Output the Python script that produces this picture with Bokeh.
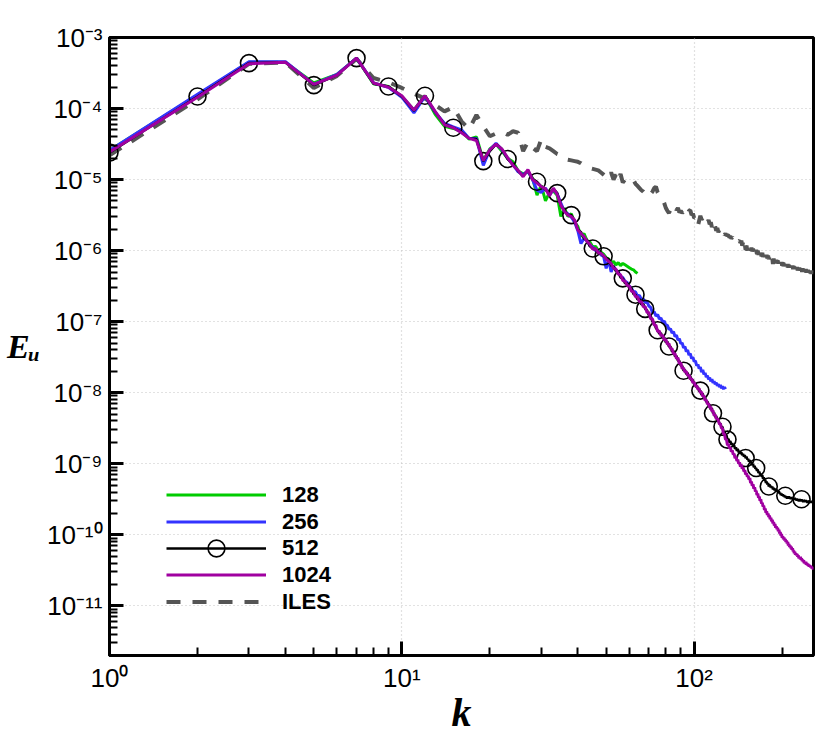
import numpy as np
from bokeh.plotting import figure
from bokeh.models import Range1d, FixedTicker, Legend, LegendItem
from bokeh.embed import file_html
from bokeh.resources import INLINE

# ---------------- data (log10 of E_u, one value per wavenumber k = 1, 2, 3, ...) ----------------
series_names = ["128", "256", "512", "1024", "ILES"]

logE_128 = [
    -4.59, -3.81, -3.35, -3.35, -3.64, -3.52, -3.29, -3.65, -3.69, -3.83,
    -4.02, -3.82, -4.08, -4.25, -4.28, -4.32, -4.43, -4.40, -4.73, -4.57,
    -4.50, -4.60, -4.70, -4.75, -4.88, -4.92, -4.89, -4.98, -5.22, -5.08,
    -5.30, -5.18, -5.16, -5.22, -5.52, -5.40, -5.52, -5.48, -5.60, -5.66,
    -5.80, -5.76, -5.86, -5.88, -5.95, -5.94, -6.00, -6.02, -6.05, -6.10,
    -6.12, -6.18, -6.15, -6.20, -6.17, -6.21, -6.18, -6.20, -6.22, -6.24,
    -6.26, -6.27, -6.30, -6.32,
]

logE_256 = [
    -4.59, -3.80, -3.34, -3.34, -3.66, -3.52, -3.29, -3.64, -3.70, -3.84,
    -4.06, -3.83, -4.05, -4.21, -4.26, -4.30, -4.42, -4.42, -4.80, -4.58,
    -4.49, -4.58, -4.70, -4.79, -4.89, -4.93, -4.88, -5.00, -5.15, -5.18,
    -5.12, -5.22, -5.14, -5.20, -5.33, -5.45, -5.48, -5.53, -5.60, -5.72,
    -5.90, -5.83, -5.86, -5.93, -5.95, -6.00, -6.01, -6.06, -6.08, -6.25,
    -6.13, -6.30, -6.22, -6.27, -6.30, -6.36, -6.38, -6.43, -6.45, -6.50,
    -6.53, -6.58, -6.58, -6.64, -6.63, -6.69, -6.68, -6.73, -6.72, -6.78,
    -6.80, -6.87, -6.86, -6.92, -6.90, -6.96, -6.95, -7.01, -6.99, -7.05,
    -7.05, -7.11, -7.10, -7.16, -7.14, -7.21, -7.19, -7.26, -7.24, -7.31,
    -7.30, -7.37, -7.35, -7.42, -7.40, -7.47, -7.45, -7.52, -7.50, -7.56,
    -7.55, -7.62, -7.60, -7.66, -7.64, -7.71, -7.68, -7.74, -7.72, -7.78,
    -7.76, -7.81, -7.79, -7.84, -7.81, -7.86, -7.84, -7.88, -7.86, -7.90,
    -7.88, -7.92, -7.89, -7.94, -7.91, -7.95, -7.92, -7.95,
]

logE_512 = [
    -4.62, -3.83, -3.36, -3.35, -3.67, -3.53, -3.29, -3.65, -3.69, -3.83,
    -4.03, -3.82, -4.05, -4.22, -4.27, -4.33, -4.42, -4.43, -4.74, -4.60,
    -4.50, -4.57, -4.71, -4.78, -4.88, -4.95, -4.87, -4.99, -5.03, -5.10,
    -5.14, -5.20, -5.13, -5.19, -5.37, -5.43, -5.50, -5.50, -5.58, -5.70,
    -5.74, -5.83, -5.85, -5.94, -5.97, -5.98, -6.04, -6.03, -6.08, -6.10,
    -6.12, -6.21, -6.22, -6.29, -6.30, -6.38, -6.39, -6.46, -6.46, -6.53,
    -6.53, -6.61, -6.62, -6.69, -6.68, -6.76, -6.75, -6.82, -6.84, -6.91,
    -6.92, -7.00, -7.02, -7.09, -7.12, -7.17, -7.16, -7.23, -7.22, -7.29,
    -7.28, -7.35, -7.35, -7.42, -7.41, -7.49, -7.48, -7.55, -7.55, -7.62,
    -7.62, -7.69, -7.68, -7.74, -7.72, -7.79, -7.77, -7.83, -7.82, -7.88,
    -7.87, -7.93, -7.92, -7.98, -7.97, -8.03, -8.01, -8.08, -8.07, -8.13,
    -8.12, -8.18, -8.17, -8.24, -8.22, -8.29, -8.28, -8.34, -8.33, -8.39,
    -8.38, -8.44, -8.43, -8.49, -8.48, -8.55, -8.54, -8.61, -8.60, -8.66,
    -8.65, -8.70, -8.68, -8.73, -8.71, -8.76, -8.74, -8.79, -8.77, -8.82,
    -8.79, -8.84, -8.82, -8.86, -8.84, -8.88, -8.86, -8.90, -8.88, -8.92,
    -8.90, -8.94, -8.93, -8.97, -8.95, -8.99, -8.98, -9.02, -9.00, -9.05,
    -9.03, -9.07, -9.06, -9.10, -9.08, -9.13, -9.11, -9.15, -9.14, -9.18,
    -9.16, -9.21, -9.19, -9.24, -9.22, -9.27, -9.25, -9.29, -9.27, -9.32,
    -9.29, -9.33, -9.31, -9.34, -9.32, -9.36, -9.34, -9.37, -9.35, -9.38,
    -9.36, -9.39, -9.38, -9.41, -9.39, -9.42, -9.41, -9.44, -9.42, -9.45,
    -9.43, -9.46, -9.44, -9.47, -9.45, -9.48, -9.46, -9.49, -9.46, -9.49,
    -9.46, -9.49, -9.47, -9.50, -9.47, -9.50, -9.48, -9.51, -9.48, -9.51,
    -9.48, -9.51, -9.49, -9.52, -9.49, -9.52, -9.50, -9.53, -9.50, -9.52,
    -9.50, -9.53, -9.50, -9.53, -9.51, -9.54, -9.51, -9.53, -9.51, -9.54,
    -9.51, -9.54, -9.52, -9.55, -9.52, -9.54, -9.52, -9.55, -9.53, -9.55,
    -9.52, -9.55, -9.53, -9.55, -9.53, -9.56,
]

logE_1024 = [
    -4.61, -3.84, -3.37, -3.35, -3.66, -3.53, -3.29, -3.64, -3.70, -3.82,
    -4.02, -3.82, -4.04, -4.23, -4.27, -4.34, -4.42, -4.45, -4.73, -4.58,
    -4.50, -4.57, -4.69, -4.80, -4.87, -4.96, -4.86, -5.00, -5.05, -5.10,
    -5.13, -5.23, -5.12, -5.21, -5.36, -5.45, -5.50, -5.52, -5.57, -5.71,
    -5.76, -5.80, -5.87, -5.91, -5.98, -5.97, -6.03, -6.04, -6.07, -6.12,
    -6.15, -6.18, -6.25, -6.26, -6.33, -6.34, -6.42, -6.43, -6.49, -6.50,
    -6.57, -6.58, -6.65, -6.65, -6.72, -6.72, -6.79, -6.79, -6.87, -6.87,
    -6.96, -6.96, -7.05, -7.05, -7.14, -7.13, -7.20, -7.19, -7.26, -7.25,
    -7.32, -7.31, -7.38, -7.38, -7.45, -7.45, -7.52, -7.51, -7.59, -7.58,
    -7.66, -7.65, -7.71, -7.70, -7.76, -7.75, -7.81, -7.80, -7.86, -7.85,
    -7.91, -7.90, -7.95, -7.94, -8.00, -7.99, -8.05, -8.04, -8.11, -8.10,
    -8.16, -8.15, -8.21, -8.20, -8.26, -8.25, -8.32, -8.31, -8.37, -8.36,
    -8.39, -8.44, -8.44, -8.50, -8.50, -8.58, -8.58, -8.66, -8.66, -8.74,
    -8.72, -8.78, -8.77, -8.83, -8.81, -8.87, -8.86, -8.92, -8.90, -8.96,
    -8.94, -9.00, -8.98, -9.04, -9.01, -9.07, -9.05, -9.11, -9.09, -9.15,
    -9.13, -9.18, -9.17, -9.22, -9.20, -9.27, -9.25, -9.31, -9.29, -9.35,
    -9.33, -9.39, -9.38, -9.44, -9.42, -9.48, -9.46, -9.52, -9.50, -9.56,
    -9.55, -9.60, -9.59, -9.65, -9.63, -9.69, -9.67, -9.72, -9.70, -9.75,
    -9.73, -9.78, -9.76, -9.81, -9.79, -9.84, -9.82, -9.87, -9.85, -9.90,
    -9.88, -9.92, -9.90, -9.95, -9.93, -9.98, -9.96, -10.01, -9.99, -10.04,
    -10.02, -10.06, -10.04, -10.08, -10.06, -10.10, -10.08, -10.12, -10.10, -10.15,
    -10.13, -10.17, -10.15, -10.19, -10.17, -10.21, -10.19, -10.23, -10.22, -10.26,
    -10.24, -10.28, -10.26, -10.29, -10.27, -10.31, -10.29, -10.33, -10.31, -10.34,
    -10.31, -10.35, -10.33, -10.37, -10.35, -10.38, -10.36, -10.40, -10.38, -10.41,
    -10.38, -10.42, -10.40, -10.43, -10.41, -10.44, -10.42, -10.45, -10.43, -10.46,
    -10.44, -10.47, -10.45, -10.48, -10.46, -10.49,
]

logE_iles = [
    -4.66, -3.87, -3.37, -3.35, -3.71, -3.54, -3.30, -3.57, -3.63, -3.71,
    -3.79, -3.86, -3.95, -4.04, -3.98, -4.18, -4.29, -4.09, -4.25, -4.39,
    -4.35, -4.33, -4.37, -4.32, -4.34, -4.60, -4.47, -4.55, -4.60, -4.43,
    -4.54, -4.56, -4.60, -4.64, -4.66, -4.71, -4.72, -4.73, -4.74, -4.75,
    -4.77, -4.80, -4.82, -4.84, -4.85, -4.86, -4.87, -4.90, -4.93, -4.96,
    -4.99, -4.90, -5.00, -4.93, -5.02, -4.92, -5.04, -5.00, -5.02, -5.01,
    -5.03, -5.01, -5.06, -5.09, -5.12, -5.15, -5.17, -5.20, -5.23, -5.24,
    -5.20, -5.17, -5.12, -5.10, -5.18, -5.22, -5.25, -5.27, -5.33, -5.40,
    -5.44, -5.47, -5.42, -5.38, -5.37, -5.36, -5.43, -5.40, -5.46, -5.44,
    -5.47, -5.45, -5.49, -5.47, -5.50, -5.44, -5.43, -5.50, -5.48, -5.54,
    -5.53, -5.62, -5.65, -5.58, -5.51, -5.56, -5.54, -5.52, -5.58, -5.56,
    -5.60, -5.57, -5.63, -5.60, -5.67, -5.62, -5.70, -5.66, -5.72, -5.68,
    -5.74, -5.71, -5.75, -5.73, -5.76, -5.74, -5.78, -5.76, -5.79, -5.78,
    -5.79, -5.81, -5.80, -5.83, -5.81, -5.84, -5.82, -5.85, -5.84, -5.86,
    -5.85, -5.87, -5.86, -5.89, -5.86, -5.93, -5.88, -5.97, -5.91, -5.99,
    -5.93, -6.00, -5.94, -5.98, -5.95, -6.00, -5.96, -6.01, -5.97, -6.03,
    -5.98, -6.04, -5.99, -6.05, -6.00, -6.06, -6.01, -6.07, -6.02, -6.08,
    -6.03, -6.09, -6.04, -6.09, -6.05, -6.10, -6.06, -6.11, -6.07, -6.12,
    -6.08, -6.12, -6.09, -6.13, -6.10, -6.19, -6.11, -6.18, -6.12, -6.19,
    -6.13, -6.17, -6.14, -6.18, -6.15, -6.19, -6.15, -6.20, -6.16, -6.21,
    -6.17, -6.22, -6.18, -6.21, -6.18, -6.22, -6.19, -6.23, -6.19, -6.24,
    -6.20, -6.24, -6.20, -6.25, -6.21, -6.25, -6.21, -6.26, -6.22, -6.26,
    -6.22, -6.27, -6.23, -6.27, -6.23, -6.28, -6.24, -6.28, -6.24, -6.29,
    -6.24, -6.29, -6.25, -6.30, -6.25, -6.30, -6.26, -6.30, -6.26, -6.31,
    -6.26, -6.31, -6.27, -6.31, -6.27, -6.32, -6.27, -6.32, -6.28, -6.32,
    -6.28, -6.33, -6.28, -6.33, -6.29, -6.33,
]

# wavenumbers where the 512 curve carries a circle symbol
marker_k_512 = [1, 2, 3, 5, 7, 9, 12, 15, 19, 23, 29, 34, 38, 45, 49, 57, 63, 68,
                75, 82, 92, 105, 116, 125, 130, 150, 163, 180, 205, 233]

# axis ranges, tick exponents and titles
k_range = (1, 256)
E_range = (2e-12, 1e-3)
x_tick_exps = [0, 1, 2]
y_tick_exps = [-11, -10, -9, -8, -7, -6, -5, -4, -3]
x_title = "k"
y_title = "E\u1d64"

# ---------------- style ----------------
colors = {"128": "#00cc00", "256": "#3333ff", "512": "#000000",
          "1024": "#a000a0", "ILES": "#555555"}
SANS = "Liberation Sans"
SERIF = "Liberation Serif"
SUP = str.maketrans("-0123456789", "\u207b\u2070\u00b9\u00b2\u00b3\u2074\u2075\u2076\u2077\u2078\u2079")


def kk(vals):
    return np.arange(1, len(vals) + 1)


def ee(vals):
    return 10.0 ** np.asarray(vals)


def pow10_label(e):
    return "10" + str(e).translate(SUP)


p = figure(width=822, height=737,
           x_axis_type="log", y_axis_type="log",
           x_range=Range1d(*k_range), y_range=Range1d(*E_range),
           output_backend="svg", toolbar_location=None,
           min_border_left=109, min_border_right=9,
           min_border_top=37, min_border_bottom=74,
           background_fill_color="white", border_fill_color="white")

p.outline_line_color = "black"
p.outline_line_width = 3

# ticks
x_major = [10.0 ** e for e in x_tick_exps]
x_minor = [m * 10.0 ** e for e in x_tick_exps for m in range(2, 10)
           if k_range[0] <= m * 10.0 ** e <= k_range[1]]
y_major = [10.0 ** e for e in y_tick_exps]
y_minor = [m * 10.0 ** e for e in range(y_tick_exps[0] - 1, y_tick_exps[-1])
           for m in range(2, 10) if E_range[0] <= m * 10.0 ** e <= E_range[1]]

p.xaxis.ticker = FixedTicker(ticks=x_major, minor_ticks=x_minor)
p.yaxis.ticker = FixedTicker(ticks=y_major, minor_ticks=y_minor)
p.xaxis.major_label_overrides = {v: pow10_label(e) for v, e in zip(x_major, x_tick_exps)}
p.yaxis.major_label_overrides = {v: pow10_label(e) for v, e in zip(y_major, y_tick_exps)}

for ax in (p.xaxis, p.yaxis):
    ax.axis_line_width = 3
    ax.axis_line_color = "black"
    ax.major_tick_in = 14
    ax.major_tick_out = 0
    ax.minor_tick_in = 8
    ax.minor_tick_out = 0
    ax.major_tick_line_width = 3
    ax.minor_tick_line_width = 2
    ax.major_tick_line_color = "black"
    ax.minor_tick_line_color = "black"
    ax.major_label_text_font = SANS
    ax.major_label_text_font_size = "26px"
    ax.major_label_text_color = "black"
    ax.major_label_standoff = 7
    ax.axis_label_text_font = SERIF
    ax.axis_label_text_font_style = "bold italic"
    ax.axis_label_text_color = "black"

p.xaxis.axis_label = x_title
p.xaxis.axis_label_text_font_size = "40px"
p.xaxis.axis_label_standoff = -6
p.yaxis.axis_label = y_title
p.yaxis.axis_label_text_font_size = "34px"
p.yaxis.axis_label_orientation = "horizontal"
p.yaxis.axis_label_standoff = 4

for g in (p.xgrid, p.ygrid):
    g.grid_line_color = "#c4c4c4"
    g.grid_line_dash = "1 3"
    g.grid_line_width = 1.2

# ---------------- curves ----------------
r_iles = p.line(kk(logE_iles), ee(logE_iles), line_color=colors["ILES"],
                line_width=4, line_dash="14 12")
r_128 = p.line(kk(logE_128), ee(logE_128), line_color=colors["128"], line_width=3)
r_256 = p.line(kk(logE_256), ee(logE_256), line_color=colors["256"], line_width=3)
r_512 = p.line(kk(logE_512), ee(logE_512), line_color=colors["512"], line_width=2.5)
mk = np.array(marker_k_512)
r_512m = p.scatter(mk, ee(np.asarray(logE_512)[mk - 1]), marker="circle", size=17,
                   fill_color=None, line_color="black", line_width=1.6)
r_1024 = p.line(kk(logE_1024), ee(logE_1024), line_color=colors["1024"], line_width=3)

# ---------------- legend (three stacked blocks so the circle symbol keeps its size) ----------------
legend_style = dict(orientation="vertical",
                    label_text_font=SANS, label_text_font_style="bold",
                    label_text_font_size="22px", label_text_color="black",
                    glyph_width=100, label_standoff=16, spacing=0, padding=0, margin=0,
                    border_line_color=None, background_fill_alpha=0)

legend_a = Legend(items=[LegendItem(label=series_names[0], renderers=[r_128]),
                         LegendItem(label=series_names[1], renderers=[r_256])],
                  location=(57, 120), glyph_height=27, label_height=27, **legend_style)
legend_b = Legend(items=[LegendItem(label=series_names[2], renderers=[r_512, r_512m])],
                  location=(57, 86), glyph_height=42, label_height=42, **legend_style)
legend_c = Legend(items=[LegendItem(label=series_names[3], renderers=[r_1024]),
                         LegendItem(label=series_names[4], renderers=[r_iles])],
                  location=(57, 40), glyph_height=27, label_height=27, **legend_style)
for lg in (legend_a, legend_b, legend_c):
    p.add_layout(lg)

open("out.html", "w").write(file_html(p, INLINE))
